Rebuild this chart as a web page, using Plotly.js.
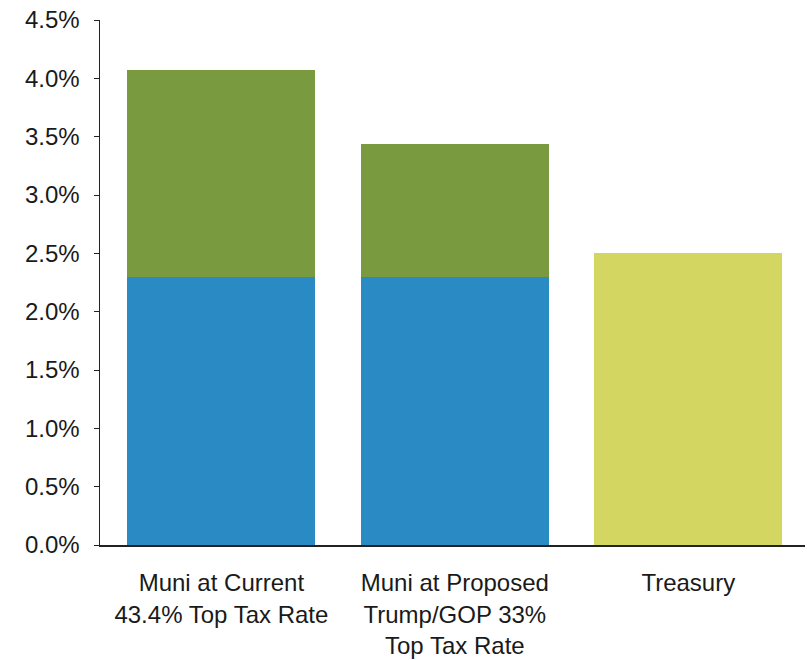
<!DOCTYPE html>
<html>
<head>
<meta charset="utf-8">
<script src="https://cdn.plot.ly/plotly-3.0.1.min.js"></script>
<style>html,body{margin:0;padding:0;background:#fff;}#chart{width:807px;height:660px;}</style>
</head>
<body>
<div id="chart"></div>
<script>
const categories = ["Muni at Current<br>43.4% Top Tax Rate", "Muni at Proposed<br>Trump/GOP 33%<br>Top Tax Rate", "Treasury"];
const muniYield = [2.3, 2.3, null];
const taxEquivalentExtra = [1.77, 1.14, null];
const treasuryYield = [null, null, 2.5];
const yTickVals = [0, 0.5, 1, 1.5, 2, 2.5, 3, 3.5, 4, 4.5];
const yTickText = ["0.0%", "0.5%", "1.0%", "1.5%", "2.0%", "2.5%", "3.0%", "3.5%", "4.0%", "4.5%"];

const traces = [
  {type: 'bar', x: categories, y: muniYield, marker: {color: '#2a8bc4'}, hoverinfo: 'y'},
  {type: 'bar', x: categories, y: taxEquivalentExtra, marker: {color: '#7a9a40'}, hoverinfo: 'y'},
  {type: 'bar', x: categories, y: treasuryYield, marker: {color: '#d3d661'}, hoverinfo: 'y'}
];

const layout = {
  width: 807, height: 660,
  barmode: 'stack',
  bargap: 0.195,
  showlegend: false,
  paper_bgcolor: '#fff', plot_bgcolor: '#fff',
  font: {family: '"Liberation Sans", Arial, sans-serif', size: 24, color: '#1a1a1a'},
  margin: {l: 100, r: 2, t: 20, b: 115},
  xaxis: {
    type: 'category',
    range: [-0.52, 2.5],
    showline: true, linecolor: '#222', linewidth: 1.5,
    ticks: '', showgrid: false, zeroline: false,
    ticklabelstandoff: 16,
    tickfont: {size: 24, color: '#1a1a1a'},
    fixedrange: true
  },
  yaxis: {
    range: [0, 4.5],
    tickvals: yTickVals,
    ticktext: yTickText,
    showline: true, linecolor: '#222', linewidth: 1.5,
    ticks: 'outside', ticklen: 5, tickcolor: '#222', tickwidth: 1,
    ticklabelstandoff: 9,
    showgrid: false, zeroline: false,
    tickfont: {size: 24, color: '#1a1a1a'},
    fixedrange: true
  }
};

Plotly.newPlot('chart', traces, layout, {displayModeBar: false, staticPlot: true});
</script>
</body>
</html>
